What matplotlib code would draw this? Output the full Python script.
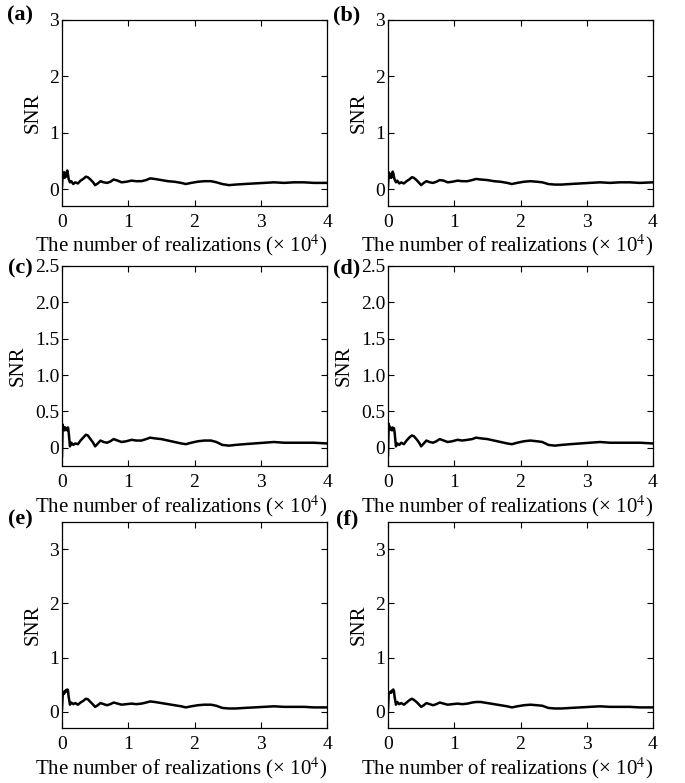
import matplotlib
matplotlib.use("Agg")
import matplotlib.pyplot as plt

plt.rcParams['font.family'] = ['Liberation Serif', 'DejaVu Serif']
plt.rcParams['mathtext.fontset'] = 'stix'

# number of realizations (x 10^4)
realizations = [0.0, 0.01, 0.02, 0.03, 0.04, 0.05, 0.06, 0.07, 0.08, 0.09,
                0.10, 0.12, 0.14, 0.17, 0.20, 0.24, 0.28, 0.32, 0.36, 0.39,
                0.43, 0.47, 0.50, 0.54, 0.58, 0.63, 0.68, 0.73, 0.78, 0.84,
                0.90, 0.97, 1.05, 1.12, 1.20, 1.27, 1.33, 1.40, 1.50, 1.60,
                1.70, 1.80, 1.87, 1.95, 2.05, 2.15, 2.25, 2.33, 2.42, 2.52,
                2.62, 2.75, 2.90, 3.05, 3.20, 3.35, 3.50, 3.65, 3.80, 4.00]

snr_a = [0.05, 0.28, 0.22, 0.30, 0.20, 0.25, 0.22, 0.30, 0.33, 0.26,
         0.18, 0.12, 0.14, 0.09, 0.12, 0.10, 0.15, 0.18, 0.22, 0.21,
         0.17, 0.12, 0.07, 0.10, 0.14, 0.12, 0.11, 0.13, 0.17, 0.15,
         0.12, 0.13, 0.15, 0.14, 0.14, 0.16, 0.19, 0.18, 0.16, 0.14,
         0.13, 0.11, 0.09, 0.11, 0.13, 0.14, 0.14, 0.12, 0.09, 0.07,
         0.08, 0.09, 0.10, 0.11, 0.12, 0.11, 0.12, 0.12, 0.11, 0.11]

snr_b = [0.05, 0.30, 0.20, 0.27, 0.24, 0.20, 0.26, 0.31, 0.28, 0.22,
         0.17, 0.12, 0.15, 0.10, 0.12, 0.10, 0.14, 0.17, 0.21, 0.20,
         0.16, 0.11, 0.07, 0.11, 0.14, 0.12, 0.11, 0.13, 0.16, 0.15,
         0.12, 0.13, 0.15, 0.14, 0.14, 0.16, 0.18, 0.17, 0.16, 0.14,
         0.13, 0.11, 0.09, 0.11, 0.13, 0.14, 0.13, 0.12, 0.09, 0.08,
         0.08, 0.09, 0.10, 0.11, 0.12, 0.11, 0.12, 0.12, 0.11, 0.12]

snr_c = [-0.12, 0.32, 0.25, 0.28, 0.24, 0.28, 0.25, 0.27, 0.24, 0.28,
         0.22, 0.02, 0.07, 0.04, 0.06, 0.05, 0.10, 0.14, 0.18, 0.17,
         0.12, 0.07, 0.02, 0.06, 0.10, 0.08, 0.07, 0.09, 0.12, 0.10,
         0.08, 0.09, 0.11, 0.10, 0.10, 0.12, 0.14, 0.13, 0.12, 0.10,
         0.08, 0.06, 0.05, 0.07, 0.09, 0.10, 0.10, 0.08, 0.04, 0.03,
         0.04, 0.05, 0.06, 0.07, 0.08, 0.07, 0.07, 0.07, 0.07, 0.06]

snr_d = [-0.10, 0.33, 0.26, 0.29, 0.25, 0.27, 0.24, 0.28, 0.25, 0.27,
         0.21, 0.02, 0.06, 0.04, 0.07, 0.05, 0.10, 0.14, 0.17, 0.16,
         0.12, 0.07, 0.02, 0.06, 0.10, 0.08, 0.07, 0.09, 0.12, 0.10,
         0.08, 0.09, 0.11, 0.10, 0.11, 0.12, 0.14, 0.13, 0.12, 0.10,
         0.08, 0.06, 0.05, 0.07, 0.09, 0.10, 0.09, 0.08, 0.04, 0.03,
         0.04, 0.05, 0.06, 0.07, 0.08, 0.07, 0.07, 0.07, 0.07, 0.06]

snr_e = [0.05, 0.30, 0.35, 0.33, 0.38, 0.36, 0.40, 0.38, 0.41, 0.40,
         0.28, 0.13, 0.17, 0.14, 0.16, 0.13, 0.17, 0.20, 0.24, 0.23,
         0.18, 0.13, 0.09, 0.12, 0.16, 0.14, 0.12, 0.14, 0.17, 0.15,
         0.13, 0.14, 0.15, 0.14, 0.15, 0.17, 0.19, 0.18, 0.16, 0.14,
         0.12, 0.10, 0.08, 0.10, 0.12, 0.13, 0.13, 0.11, 0.07, 0.06,
         0.06, 0.07, 0.08, 0.09, 0.10, 0.09, 0.09, 0.09, 0.08, 0.08]

snr_f = [0.05, 0.32, 0.34, 0.36, 0.37, 0.35, 0.39, 0.40, 0.41, 0.38,
         0.27, 0.13, 0.18, 0.14, 0.16, 0.13, 0.17, 0.21, 0.24, 0.22,
         0.18, 0.13, 0.09, 0.12, 0.16, 0.14, 0.12, 0.14, 0.17, 0.15,
         0.13, 0.14, 0.15, 0.14, 0.15, 0.17, 0.18, 0.18, 0.16, 0.14,
         0.12, 0.10, 0.08, 0.10, 0.12, 0.13, 0.12, 0.11, 0.07, 0.06,
         0.06, 0.07, 0.08, 0.09, 0.10, 0.09, 0.09, 0.09, 0.08, 0.08]

panel_labels = ['(a)', '(b)', '(c)', '(d)', '(e)', '(f)']
all_snr = [snr_a, snr_b, snr_c, snr_d, snr_e, snr_f]

# y settings per row
row_ylims = [(-0.3, 3.0), (-0.25, 2.5), (-0.3, 3.5)]
row_yticks = [[0, 1, 2, 3], [0, 0.5, 1.0, 1.5, 2.0, 2.5], [0, 1, 2, 3]]
row_yticklabels = [['0', '1', '2', '3'],
                   ['0', '0.5', '1.0', '1.5', '2.0', '2.5'],
                   ['0', '1', '2', '3']]
x_ticks = [0, 1, 2, 3, 4]

W, H = 685, 783
fig = plt.figure(figsize=(W / 100, H / 100), dpi=100)

# axes boxes in pixels: (top, bottom) per row, (left, right) per column
rows_px = [(20, 206), (266, 466), (522, 728)]
cols_px = [(62, 327), (388, 653)]
label_y_px = [15, 268, 519]
xlabel_gap_px = [26, 27, 27]

for i, snr in enumerate(all_snr):
    r, c = divmod(i, 2)
    top, bot = rows_px[r]
    left, right = cols_px[c]
    ax = fig.add_axes([left / W, 1 - bot / H, (right - left) / W, (bot - top) / H])
    ax.plot(realizations, snr, color='black', lw=1.8)
    ax.set_xlim(0, 4)
    ax.set_ylim(*row_ylims[r])
    ax.set_xticks(x_ticks)
    ax.set_yticks(row_yticks[r])
    ax.set_yticklabels(row_yticklabels[r])
    ax.tick_params(direction='in', top=True, right=True, length=4, width=0.8,
                   labelsize=14, pad=2)
    ax.tick_params(axis='x', pad=6)
    for sp in ax.spines.values():
        sp.set_linewidth(0.9)
    ax.set_ylabel('SNR', fontsize=15, labelpad=5)
    ax.set_xlabel('The number of realizations (× 10$^4$)', fontsize=15, labelpad=1)
    ax.xaxis.set_label_coords(0.45, -xlabel_gap_px[r] / (bot - top))
    fig.text((20 if c == 0 else 347) / W, 1 - label_y_px[r] / H, panel_labels[i],
             fontsize=16, fontweight='bold', ha='center', va='center')

fig.savefig('out.png', dpi=100)
